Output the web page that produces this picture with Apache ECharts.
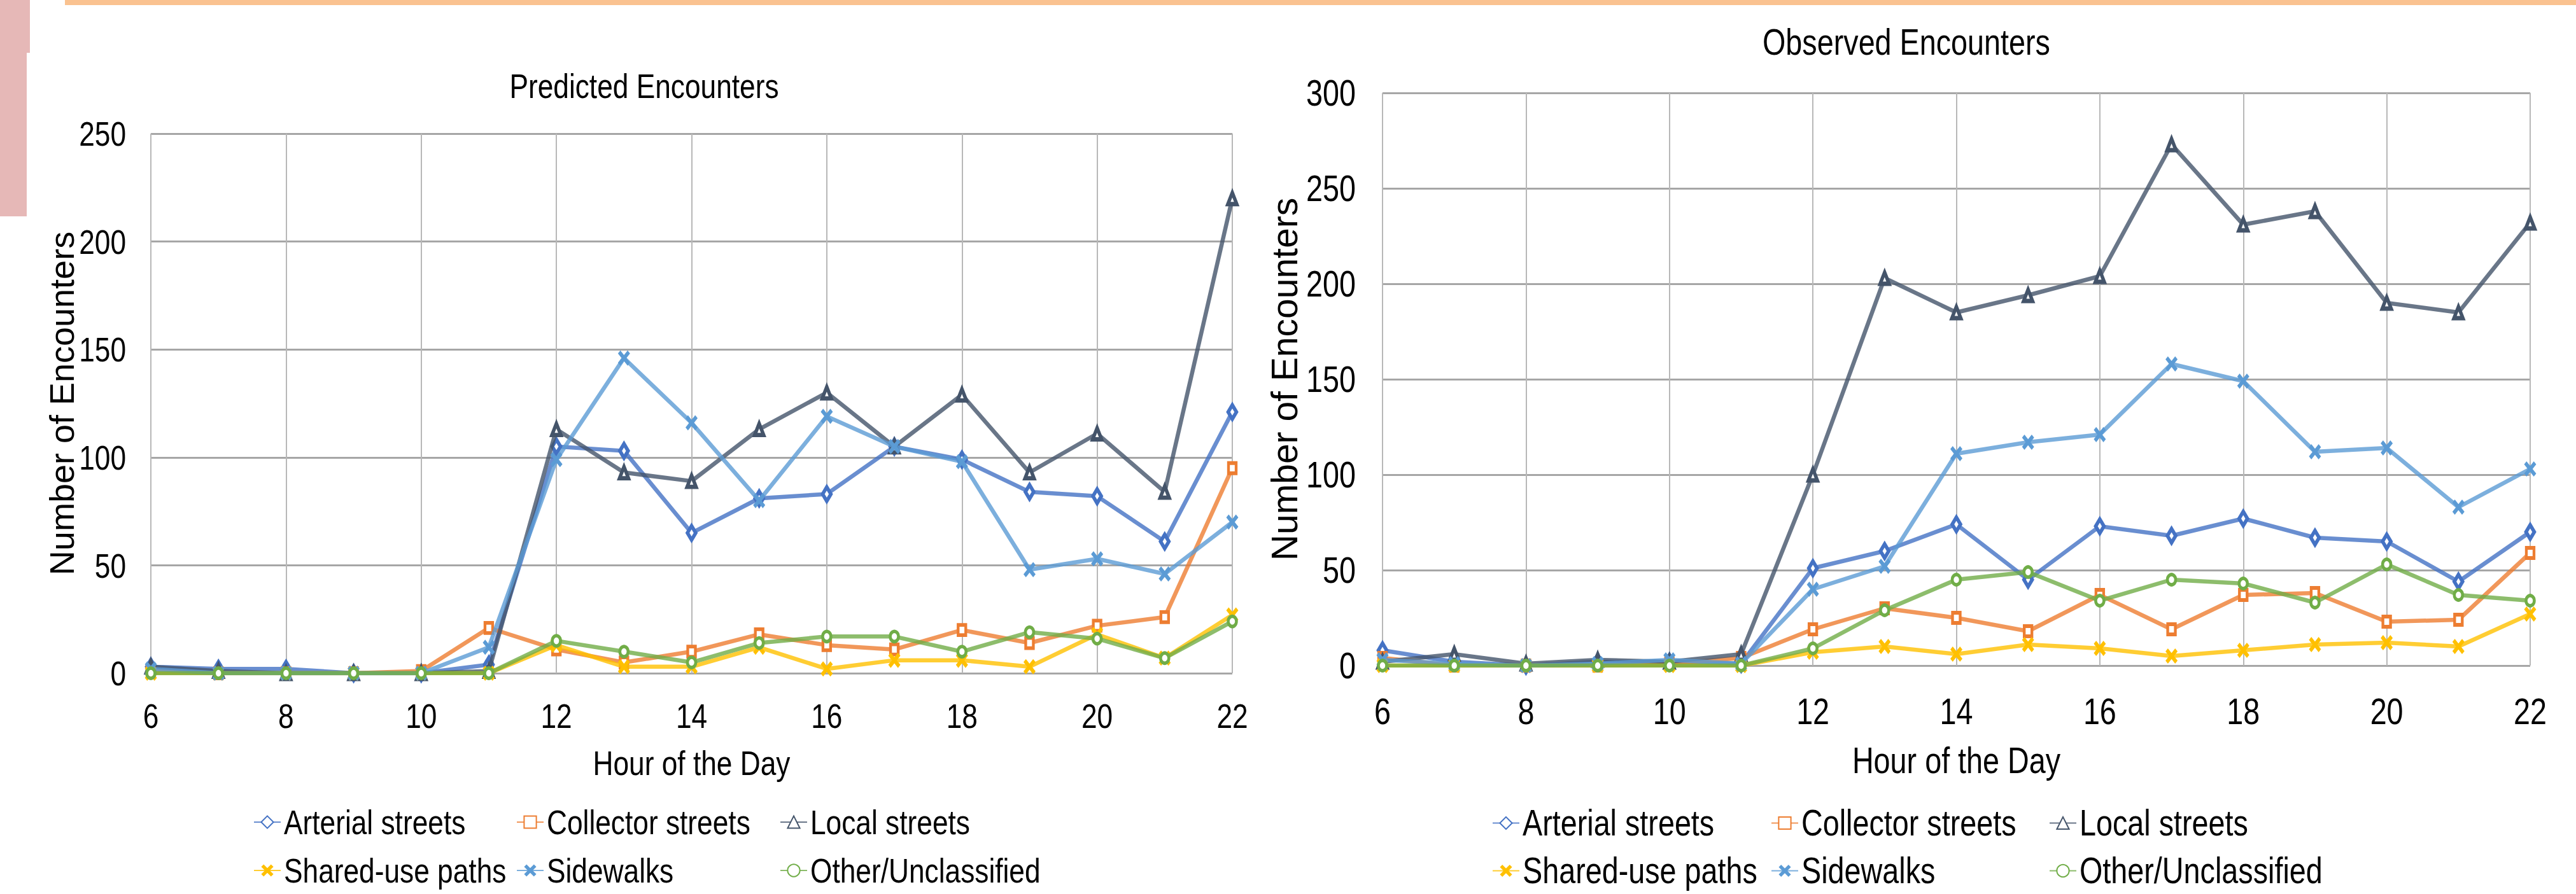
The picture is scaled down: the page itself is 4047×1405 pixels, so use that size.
<!DOCTYPE html>
<html>
<head>
<meta charset="utf-8">
<script src="https://cdn.jsdelivr.net/npm/echarts@6/dist/echarts.min.js"></script>
<style>
html,body{margin:0;padding:0;background:#fff;}
#chart{width:4047px;height:1405px;}
</style>
</head>
<body>
<div id="chart"></div>
<script>
// ---- data ----
var hours = [6, 7, 8, 9, 10, 11, 12, 13, 14, 15, 16, 17, 18, 19, 20, 21, 22];
var seriesNames = ['Arterial streets', 'Collector streets', 'Local streets', 'Shared-use paths', 'Sidewalks', 'Other/Unclassified'];

// Predicted Encounters
var predArterial  = [3, 2, 2, 0, 0, 4, 105, 103, 65, 81, 83, 105, 99, 84, 82, 61, 121];
var predCollector = [1, 0, 0, 0, 1, 21, 11, 5, 10, 18, 13, 11, 20, 14, 22, 26, 95];
var predLocal     = [3, 1, 0, 0, 0, 1, 113, 93, 89, 113, 130, 105, 129, 93, 111, 84, 220];
var predShared    = [0, 0, 0, 0, 0, 0, 13, 3, 3, 12, 2, 6, 6, 3, 18, 7, 27];
var predSidewalks = [2, 0, 0, 0, 0, 12, 99, 146, 116, 80, 119, 105, 98, 48, 53, 46, 70];
var predOther     = [0, 0, 0, 0, 0, 0, 15, 10, 5, 14, 17, 17, 10, 19, 16, 7, 24];

// Observed Encounters
var obsArterial  = [8, 2, 0, 2, 2, 1, 51, 60, 74, 45, 73, 68, 77, 67, 65, 44, 70];
var obsCollector = [4, 0, 0, 0, 1, 4, 19, 30, 25, 18, 37, 19, 37, 38, 23, 24, 59];
var obsLocal     = [2, 6, 1, 3, 2, 6, 100, 203, 185, 194, 204, 273, 231, 238, 190, 185, 232];
var obsShared    = [0, 0, 0, 0, 0, 0, 7, 10, 6, 11, 9, 5, 8, 11, 12, 10, 27];
var obsSidewalks = [3, 1, 0, 1, 3, 1, 40, 52, 111, 117, 121, 158, 149, 112, 114, 83, 103];
var obsOther     = [0, 0, 0, 0, 0, 0, 9, 29, 45, 49, 34, 45, 43, 33, 53, 37, 34];

// ---- styles ----
var FONT = "'Liberation Sans',Arial,sans-serif";
var CONDENSE = 0.82;
var XPATH = 'path://M0,2 L2,0 L5,3 L8,0 L10,2 L7,5 L10,8 L8,10 L5,7 L2,10 L0,8 L3,5 Z';
var styles = [
  {color: '#4472C4', symbol: 'diamond', size: [13, 22], border: 6, hollow: true},
  {color: '#ED7D31', symbol: 'rect', size: [12, 16], border: 5, hollow: true},
  {color: '#44546A', symbol: 'triangle', size: [14, 18], border: 6, hollow: true},
  {color: '#FFC000', symbol: XPATH, size: [19, 24], border: 0, hollow: false},
  {color: '#5B9BD5', symbol: XPATH, size: [19, 24], border: 0, hollow: false},
  {color: '#70AD47', symbol: 'circle', size: [13, 16], border: 5, hollow: true}
];

function pairs(vals) {
  return hours.map(function (h, i) { return [h, vals[i]]; });
}

function makeSeries(idx, gridIdx, vals) {
  var s = styles[idx];
  return {
    type: 'line',
    name: seriesNames[idx],
    xAxisIndex: gridIdx,
    yAxisIndex: gridIdx,
    data: pairs(vals),
    symbol: s.symbol,
    symbolSize: s.size,
    showAllSymbol: true,
    color: s.color,
    lineStyle: {color: s.color, width: 6.5, opacity: 0.8},
    itemStyle: s.hollow ? {color: '#ffffff', borderColor: s.color, borderWidth: s.border} : {color: s.color, borderWidth: 0},
    emphasis: {disabled: true},
    z: 2 + idx
  };
}

var predSets = [predArterial, predCollector, predLocal, predShared, predSidewalks, predOther];
var obsSets = [obsArterial, obsCollector, obsLocal, obsShared, obsSidewalks, obsOther];
var series = [];
predSets.forEach(function (v, i) { series.push(makeSeries(i, 0, v)); });
obsSets.forEach(function (v, i) { series.push(makeSeries(i, 1, v)); });

function makeX(gridIdx, fs, margin, nameGap) {
  return {
    type: 'value', gridIndex: gridIdx, min: 6, max: 22, interval: 2,
    name: 'Hour of the Day', nameLocation: 'middle', nameGap: nameGap, nameMoveOverlap: false,
    nameTextStyle: {fontFamily: FONT, fontSize: fs, color: '#000'},
    axisLine: {show: false}, axisTick: {show: false},
    axisLabel: {fontFamily: FONT, fontSize: fs, color: '#000', margin: margin},
    splitLine: {show: true, lineStyle: {color: '#b8b8b8', width: 2}}
  };
}
function makeY(gridIdx, max, fs, margin, nameGap, nameFs) {
  return {
    type: 'value', gridIndex: gridIdx, min: 0, max: max, interval: 50,
    name: 'Number of Encounters', nameLocation: 'middle', nameRotate: 90, nameGap: nameGap,
    nameMoveOverlap: false,
    nameTextStyle: {fontFamily: FONT, fontSize: nameFs, color: '#000'},
    axisLine: {show: false}, axisTick: {show: false},
    axisLabel: {fontFamily: FONT, fontSize: fs, color: '#000', margin: margin},
    splitLine: {show: true, lineStyle: {color: '#a6a6a6', width: 3}}
  };
}

function legendItem(name, left, top, fs) {
  return {
    data: [name], left: left, top: top, padding: 0,
    itemWidth: 42, itemHeight: 24, itemGap: 0,
    selectedMode: false,
    textStyle: {fontFamily: FONT, fontSize: fs, color: '#000'}
  };
}

var leftCols = [398, 811, 1225], rightCols = [2344, 2782, 3219];
var legends = [];
seriesNames.forEach(function (n, i) {
  var col = i % 3, row = Math.floor(i / 3);
  legends.push(legendItem(n, leftCols[col], row === 0 ? 1265 : 1341, 54));
  legends.push(legendItem(n, rightCols[col], row === 0 ? 1265 : 1340, 57));
});

var option = {
  animation: false,
  backgroundColor: '#ffffff',
  title: [
    {text: 'Predicted Encounters', left: 1012, top: 108, textAlign: 'center', padding: 0,
     textStyle: {fontFamily: FONT, fontSize: 54, fontWeight: 'normal', color: '#000'}},
    {text: 'Observed Encounters', left: 2995, top: 38, textAlign: 'center', padding: 0,
     textStyle: {fontFamily: FONT, fontSize: 57, fontWeight: 'normal', color: '#000'}}
  ],
  grid: [
    {left: 237, top: 210, width: 1699, height: 848, containLabel: false},
    {left: 2172, top: 146, width: 1803, height: 900, containLabel: false}
  ],
  xAxis: [makeX(0, 54, 40, 114), makeX(1, 57, 44, 121)],
  yAxis: [makeY(0, 250, 54, 39, 113, 54), makeY(1, 300, 57, 42, 126, 57)],
  legend: legends,
  series: series,
  graphic: [
    {type: 'rect', left: 0, top: 0, shape: {width: 47, height: 83}, style: {fill: '#e6b8b7'}, silent: true},
    {type: 'rect', left: 0, top: 83, shape: {width: 42, height: 257}, style: {fill: '#e6b8b7'}, silent: true},
    {type: 'rect', left: 102, top: 0, shape: {width: 3945, height: 8}, style: {fill: '#fac290'}, silent: true}
  ]
};

var chart = echarts.init(document.getElementById('chart'), null, {renderer: 'svg'});
chart.setOption(option);

// The reference uses a condensed face (Arial Narrow look); none is installed,
// so horizontal text is narrowed around its own anchor point.
function condenseTexts() {
  var texts = document.querySelectorAll('#chart svg text');
  for (var i = 0; i < texts.length; i++) {
    var t = texts[i];
    if (t.getAttribute('data-cond')) continue;
    if (t.textContent === 'Number of Encounters') continue;
    var tr = t.getAttribute('transform') || '';
    var m = tr.match(/matrix\(([^)]+)\)/);
    if (m) {
      var p = m[1].split(/[ ,]+/).map(Number);
      if (Math.abs(p[1]) > 1e-6 || Math.abs(p[2]) > 1e-6) continue;
    }
    var x = parseFloat(t.getAttribute('x') || '0') || 0;
    t.setAttribute('transform', tr + ' translate(' + x + ' 0) scale(' + CONDENSE + ' 1) translate(' + (-x) + ' 0)');
    t.setAttribute('data-cond', '1');
  }
}
chart.getZr().flush();
condenseTexts();
chart.on('finished', condenseTexts);
setTimeout(condenseTexts, 50);
</script>
</body>
</html>
